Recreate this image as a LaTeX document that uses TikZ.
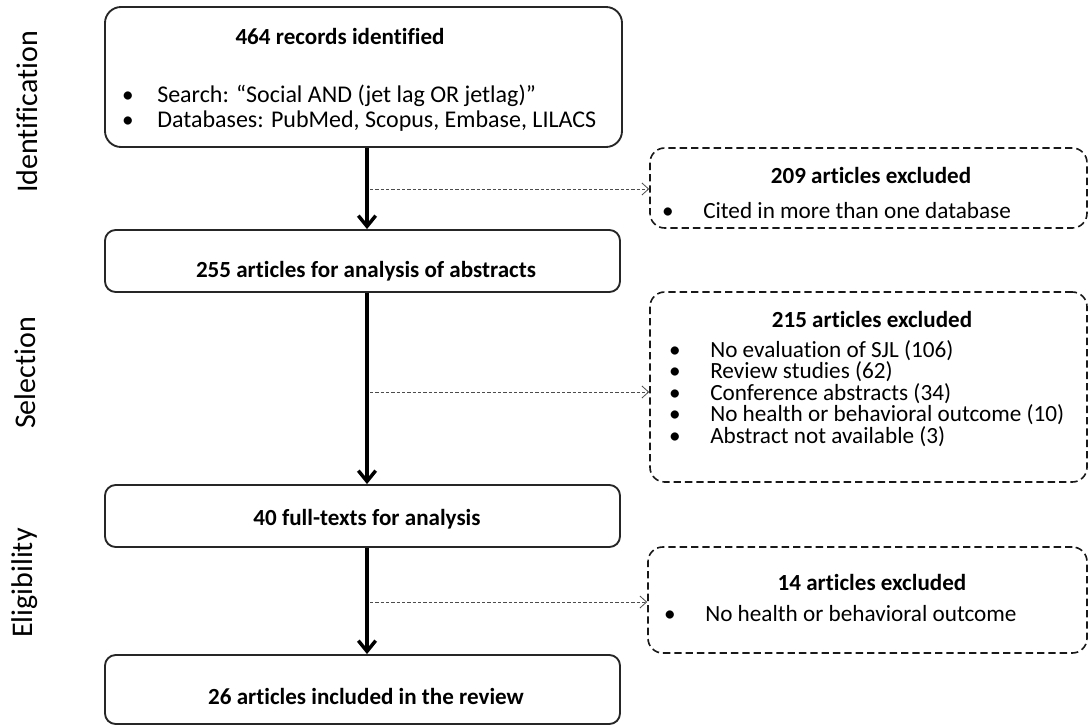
\documentclass[tikz,border=0pt]{standalone}
\usepackage{fontspec}
\setmainfont{Carlito}[Ligatures=NoCommon]
\newfontfamily\sidefont{Carlito}[Ligatures=NoCommon]
\usetikzlibrary{arrows.meta,fit}
\tikzset{
  solidbox/.style={draw=black!85, line width=1.4pt, rounded corners=8pt, inner sep=0pt},
  dashbox/.style={draw=black!90, line width=1.2pt, dash pattern=on 5.5pt off 3pt, rounded corners=11pt, inner sep=0pt},
  mainarrow/.style={line width=2.6pt, -{Straight Barb[length=8pt,width=13pt]}},
  sidearrow/.style={draw=black!70, line width=0.6pt, dash pattern=on 2.5pt off 1.5pt, -{Straight Barb[length=5pt,width=9pt,line width=0.6pt]}},
  ttl/.style={font=\fontsize{17.3}{20}\selectfont\bfseries, inner sep=0pt, anchor=base},
  bul/.style={font=\fontsize{17.4}{20}\selectfont, inner sep=0pt, anchor=base},
  itm/.style={font=\fontsize{17.4}{20}\selectfont, inner sep=0pt, anchor=base west},
  side/.style={font=\sidefont\fontsize{22.5}{26}\selectfont, rotate=90, inner sep=0pt}
}
\begin{document}
\begin{tikzpicture}[x=0.75pt,y=-0.75pt]
\useasboundingbox (0,0) rectangle (1089,726);

% side labels
\node[side] (lid) at (27,112) {Identification};
\node[side] (lsel) at (25,373) {Selection};
\node[side] (lel) at (25,583) {Eligibility};

% main boxes
\node[solidbox, rounded corners=12pt, fit={(105,7) (622,147)}] (b1) {};
\node[ttl] (b1t) at (340,44) {464 records identified};
\node[bul] (b1b1) at (128,102) {•};
\node[itm, font=\fontsize{18}{20}\selectfont] (b1i1) at (157,102) {Search: “Social AND (jet lag OR jetlag)”};
\node[bul] (b1b2) at (128,127) {•};
\node[itm, font=\fontsize{18}{20}\selectfont] (b1i2) at (157,127) {Databases: PubMed, Scopus, Embase, LILACS};

\node[solidbox, fit={(105,230) (620,292)}] (b2) {};
\node[ttl] (b2t) at (366,277) {255 articles for analysis of abstracts};

\node[solidbox, fit={(105,485) (620,547)}] (b3) {};
\node[ttl] (b3t) at (367,525) {40 full-texts for analysis};

\node[solidbox, fit={(105,655) (620,724)}] (b4) {};
\node[ttl] (b4t) at (366,704) {26 articles included in the review};

% dashed boxes
\node[dashbox, fit={(650,148) (1087,228)}] (d1) {};
\node[ttl] (d1t) at (871,183) {209 articles excluded};
\node[bul] (d1b1) at (668,218) {•};
\node[itm] (d1i1) at (703,218) {Cited in more than one database};

\node[dashbox, fit={(650,292) (1087,482)}] (d2) {};
\node[ttl] (d2t) at (872,327) {215 articles excluded};
\node[bul] (d2b1) at (675,357) {•};
\node[itm] (d2i1) at (710,357) {No evaluation of SJL (106)};
\node[bul] (d2b2) at (675,378.5) {•};
\node[itm] (d2i2) at (710,378.5) {Review studies (62)};
\node[bul] (d2b3) at (675,400) {•};
\node[itm] (d2i3) at (710,400) {Conference abstracts (34)};
\node[bul] (d2b4) at (675,421.5) {•};
\node[itm] (d2i4) at (710,421.5) {No health or behavioral outcome (10)};
\node[bul] (d2b5) at (675,443) {•};
\node[itm] (d2i5) at (710,443) {Abstract not available (3)};

\node[dashbox, fit={(648,547) (1087,653)}] (d3) {};
\node[ttl] (d3t) at (872,590) {14 articles excluded};
\node[bul] (d3b1) at (670,621) {•};
\node[itm] (d3i1) at (705,621) {No health or behavioral outcome};

% main arrows
\coordinate (ax) at (367,0);
\draw[mainarrow] (b1.south -| ax) -- (b2.north -| ax);
\draw[mainarrow] (b2.south -| ax) -- (b3.north -| ax);
\draw[mainarrow] (b3.south -| ax) -- (b4.north -| ax);

% dashed side arrows
\coordinate (s1) at (370,189);
\coordinate (s2) at (370,392);
\coordinate (s3) at (370,602);
\draw[sidearrow] (s1) -- (s1 -| d1.west);
\draw[sidearrow] (s2) -- (s2 -| d2.west);
\draw[sidearrow] (s3) -- (s3 -| d3.west);
\end{tikzpicture}
\end{document}
